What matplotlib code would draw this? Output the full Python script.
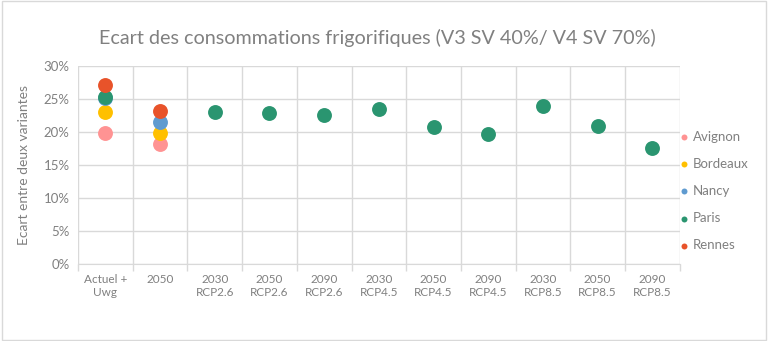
import numpy as np
import matplotlib.pyplot as plt
from matplotlib.patches import Rectangle
from matplotlib.ticker import FuncFormatter, FixedLocator

plt.rcParams['font.family'] = ['Lato', 'DejaVu Sans']

# categories on the x axis
categories = ["Actuel +\nUwg", "2050",
              "2030\nRCP2.6", "2050\nRCP2.6", "2090\nRCP2.6",
              "2030\nRCP4.5", "2050\nRCP4.5", "2090\nRCP4.5",
              "2030\nRCP8.5", "2050\nRCP8.5", "2090\nRCP8.5"]

# écart entre deux variantes, in %
avignon = [19.8, 18.2]
bordeaux = [23.0, 19.9]
nancy = [25.1, 21.5]
paris = [25.3, None, 23.0, 22.9, 22.6, 23.5, 20.8, 19.7, 23.9, 20.9, 17.6]
rennes = [27.1, 23.2]

series = [
    ("Avignon", avignon, "#FF9393"),
    ("Bordeaux", bordeaux, "#FFC000"),
    ("Nancy", nancy, "#5F9BD0"),
    ("Paris", paris, "#2A9570"),
    ("Rennes", rennes, "#E8532A"),
]

fig = plt.figure(figsize=(7.68, 3.41), dpi=100)
fig.patches.append(Rectangle((0.002, 0.003), 0.996, 0.994, transform=fig.transFigure,
                             fill=False, edgecolor="#D9D9D9", linewidth=1))

ax = fig.add_axes([0.1016, 0.2258, 0.7834, 0.5807])

for name, vals, col in series:
    xs = [i for i, v in enumerate(vals) if v is not None]
    ys = [vals[i] / 100 for i in xs]
    ax.scatter(xs, ys, s=115, color=col, label=name, zorder=3, linewidths=0)

n = len(categories)
ax.set_xlim(-0.5, n - 0.5)
ax.set_ylim(0, 0.30)
ax.set_yticks(np.arange(0, 0.31, 0.05))
ax.yaxis.set_major_formatter(FuncFormatter(lambda v, p: f"{v * 100:.0f}%"))

# labels centred in each slot, gridlines and ticks on the slot borders
ax.set_xticks(range(n))
ax.set_xticklabels(categories)
ax.xaxis.set_minor_locator(FixedLocator(np.arange(-0.5, n, 1.0)))
ax.tick_params(axis="x", which="major", length=0, pad=7, labelsize=8.5, colors="#808080")
ax.tick_params(axis="x", which="minor", length=5, color="#D9D9D9", width=1)
ax.tick_params(axis="y", length=0, pad=6, labelsize=9.5, colors="#808080")
for lbl in ax.get_xticklabels():
    lbl.set_linespacing(1.3)

ax.grid(True, axis="y", color="#D9D9D9", linewidth=1)
ax.grid(True, axis="x", which="minor", color="#D9D9D9", linewidth=1)
ax.grid(False, axis="x", which="major")
ax.set_axisbelow(True)
for side in ["top", "right", "left"]:
    ax.spines[side].set_visible(False)
ax.spines["bottom"].set_color("#D9D9D9")

ax.set_ylabel("Ecart entre deux variantes", fontsize=10, color="#808080", labelpad=10)

fig.text(0.492, 0.888, "Ecart des consommations frigorifiques (V3 SV 40%/ V4 SV 70%)",
         ha="center", va="center", fontsize=14.2, color="#808080")

leg = fig.legend(loc="center left", bbox_to_anchor=(0.884, 0.44), frameon=False,
                 fontsize=9.5, handlelength=0.7, handletextpad=0.35, labelspacing=1.15,
                 markerscale=0.4, borderaxespad=0, borderpad=0)
for t in leg.get_texts():
    t.set_color("#808080")

fig.savefig("out.png", dpi=100)
